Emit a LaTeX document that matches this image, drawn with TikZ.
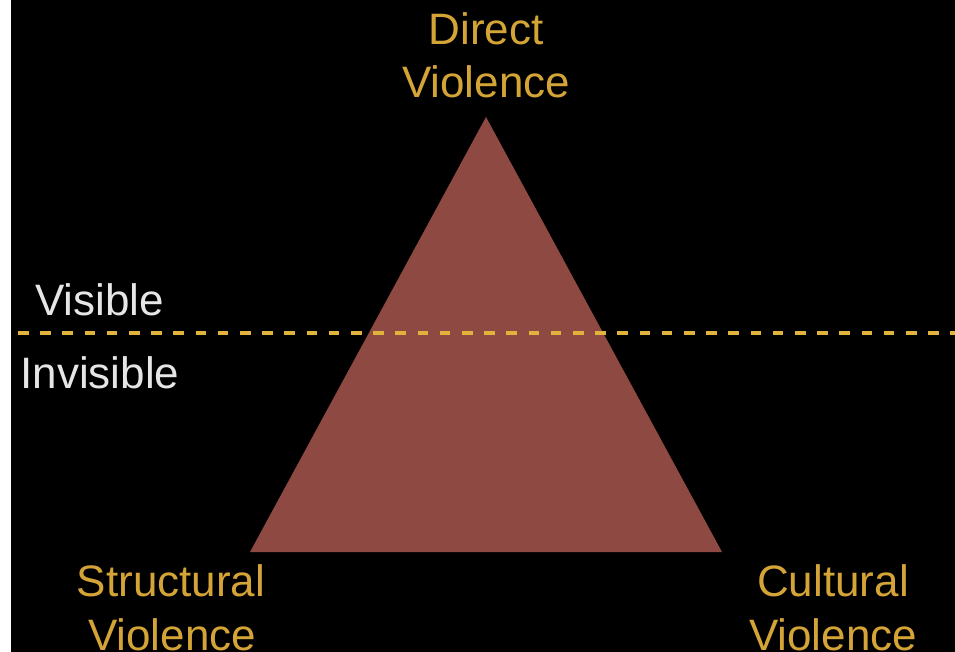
\documentclass[tikz,border=0pt]{standalone}
\usepackage{fontspec}
\setmainfont{Liberation Sans}
\definecolor{gold}{HTML}{D4A437}
\definecolor{dashgold}{HTML}{E2B33C}
\definecolor{tri}{HTML}{8E4942}
\definecolor{pale}{HTML}{E6E6E6}
\begin{document}
\begin{tikzpicture}[x=1pt,y=-1pt,
  lbl/.style={anchor=base,inner sep=0pt,font=\fontsize{44}{53}\selectfont},
  goldlbl/.style={lbl,text=gold},
  palelbl/.style={lbl,text=pale}]
\useasboundingbox (0,0) rectangle (955,652);
\fill[white] (0,0) rectangle (10.5,652);
\fill[black] (10.5,0) rectangle (955,652);
% triangle
\coordinate (A) at (486,117);
\coordinate (B) at (250,552);
\coordinate (C) at (722,552);
\fill[tri] (A) -- (B) -- (C) -- cycle;
% dashed line
\coordinate (L) at (18,333);
\coordinate (R) at (955,333);
\draw[dashgold,line width=4.5pt,dash pattern=on 10.5pt off 11.7pt] (L) -- (R);
% labels
\node[goldlbl] (d1) at (486,44.5) {Direct};
\node[goldlbl] (d2) at (486,97.5) {Violence};
\node[palelbl] (vis) at (99.5,315) {Visible};
\node[palelbl] (invis) at (100,388) {Invisible};
\node[goldlbl] (s1) at (171,596) {Structural};
\node[goldlbl] (s2) at (172,650) {Violence};
\node[goldlbl] (c1) at (833,596) {Cultural};
\node[goldlbl] (c2) at (833,650) {Violence};
\end{tikzpicture}
\end{document}
